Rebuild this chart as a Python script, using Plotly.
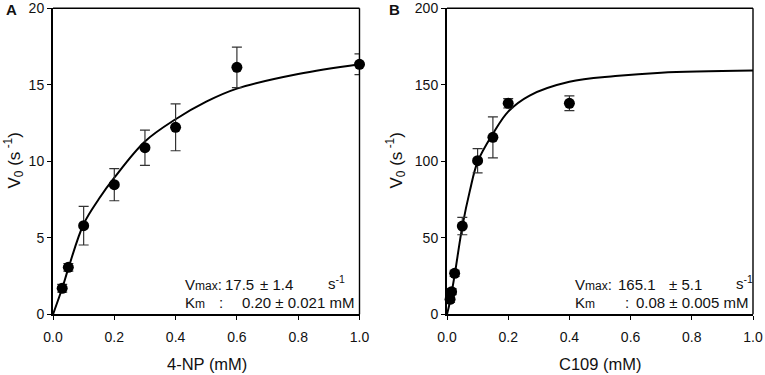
import plotly.graph_objects as go

W, H = 765, 375

# Panel A data (4-NP)
a_x = [0.03, 0.05, 0.1, 0.2, 0.3, 0.4, 0.6, 1.0]
a_y = [1.70, 3.07, 5.79, 8.47, 10.89, 12.22, 16.14, 16.34]
a_err = [0.25, 0.25, 1.26, 1.05, 1.15, 1.53, 1.32, 0.68]
a_fit_x = [0, 0.03, 0.05, 0.1, 0.15, 0.2, 0.3, 0.4, 0.5, 0.6, 0.8, 1.0]
a_fit_y = [0, 1.7, 3.0, 5.9, 7.55, 8.93, 11.3, 12.75, 13.9, 14.75, 15.7, 16.34]

# Panel B data (C109)
b_x = [0.01, 0.015, 0.025, 0.05, 0.1, 0.15, 0.2, 0.4]
b_y = [9.8, 14.8, 26.8, 57.7, 100.4, 115.7, 137.9, 137.9]
b_err = [2.0, 2.0, 2.0, 5.7, 7.9, 13.4, 3.05, 4.8]
b_fit_x = [0, 0.01, 0.025, 0.05, 0.075, 0.1, 0.15, 0.2, 0.27, 0.4, 0.55, 0.7, 1.0]
b_fit_y = [0, 8.5, 25.7, 57.3, 81, 99.7, 118, 132.5, 143, 152, 155.7, 157.9, 159.3]

x_ticks = [0.0, 0.2, 0.4, 0.6, 0.8, 1.0]
x_tick_text = ["0.0", "0.2", "0.4", "0.6", "0.8", "1.0"]
a_y_ticks = [0, 5, 10, 15, 20]
b_y_ticks = [0, 50, 100, 150, 200]

FONT = "Liberation Sans, Arial, sans-serif"
INK = "#111111"

fig = go.Figure()

def add_panel(xs, ys, errs, fx, fy, xa, ya):
    fig.add_trace(go.Scatter(x=fx, y=fy, mode="lines", xaxis=xa, yaxis=ya,
                             line=dict(color="black", width=2, shape="spline", smoothing=1.0),
                             hoverinfo="skip", showlegend=False, cliponaxis=False))
    fig.add_trace(go.Scatter(x=xs, y=ys, mode="markers", xaxis=xa, yaxis=ya,
                             marker=dict(color="black", size=11),
                             error_y=dict(type="data", array=errs, color="#333333",
                                          thickness=1.2, width=5),
                             showlegend=False, cliponaxis=False))

add_panel(a_x, a_y, a_err, a_fit_x, a_fit_y, "x", "y")
add_panel(b_x, b_y, b_err, b_fit_x, b_fit_y, "x2", "y2")

ydom = [1 - 314.3 / H, 1 - 8.3 / H]
axis_common = dict(showline=True, linecolor="black", linewidth=2, mirror=False,
                   ticks="outside", ticklen=4, tickwidth=1, tickcolor="black",
                   showgrid=False, zeroline=False, automargin=False,
                   tickfont=dict(family=FONT, size=14, color=INK))

fig.update_layout(
    template="none",
    width=W, height=H,
    margin=dict(l=0, r=0, t=0, b=0, pad=0),
    font=dict(family=FONT, color=INK),
    paper_bgcolor="white", plot_bgcolor="white",
    xaxis=dict(domain=[53 / W, 359.5 / W], range=[0, 1], tickvals=x_ticks,
               ticktext=x_tick_text, anchor="y", ticklabelstandoff=5, **axis_common),
    yaxis=dict(domain=ydom, range=[0, 20], tickvals=a_y_ticks, anchor="x", **axis_common),
    xaxis2=dict(domain=[447 / W, 753 / W], range=[0, 1], tickvals=x_ticks,
                ticktext=x_tick_text, anchor="y2", ticklabelstandoff=5, **axis_common),
    yaxis2=dict(domain=ydom, range=[0, 200], tickvals=b_y_ticks, anchor="x2", **axis_common),
)

# top/right frame lines
for xr, yr in (("x domain", "y domain"), ("x2 domain", "y2 domain")):
    fig.add_shape(type="line", xref=xr, yref=yr, x0=0, x1=1, y0=1, y1=1,
                  line=dict(color="black", width=1.4))
    fig.add_shape(type="line", xref=xr, yref=yr, x0=1, x1=1, y0=0, y1=1,
                  line=dict(color="black", width=1.4))

def ann(text, px, py, size, xanchor="center", angle=0, bold=False):
    if bold:
        text = "<b>" + text + "</b>"
    fig.add_annotation(text=text, x=px / W, y=1 - py / H, xref="paper", yref="paper",
                       xanchor=xanchor, yanchor="middle", showarrow=False, textangle=angle,
                       font=dict(family=FONT, size=size, color=INK))

ytitle = "V<sub>0</sub> (s<sup> -1</sup>)"
ann(ytitle, 13.5, 161, 17, angle=-90)
ann(ytitle, 395.5, 161, 17, angle=-90)
ann("4-NP (mM)", 206.5, 364, 16.5)
ann("C109 (mM)", 600.5, 364, 16.5)
ann("A", 11, 10, 15, bold=True)
ann("B", 394.5, 10, 15, bold=True)

SMALL = "<span style='font-size:12px'>%s</span>"
# Panel A stats
ann("V" + SMALL % "max" + ":", 182.5, 284, 15, xanchor="left")
ann("17.5", 222.5, 284, 15, xanchor="left")
ann("± 1.4", 258, 284, 15, xanchor="left")
ann("s<sup>-1</sup>", 325.5, 282, 15, xanchor="left")
ann("K" + SMALL % "m", 182.5, 302, 15, xanchor="left")
ann(":", 216.5, 302, 15, xanchor="left")
ann("0.20 ± 0.021 mM", 356, 302, 15, xanchor="right")
# Panel B stats
ann("V" + SMALL % "max" + ":", 573, 284, 15, xanchor="left")
ann("165.1", 616, 284, 15, xanchor="left")
ann("± 5.1", 667, 284, 15, xanchor="left")
ann("s<sup>-1</sup>", 734, 282, 15, xanchor="left")
ann("K" + SMALL % "m", 573, 302, 15, xanchor="left")
ann(":", 623, 302, 15, xanchor="left")
ann("0.08 ± 0.005 mM", 750, 302, 15, xanchor="right")

fig.write_html("out.html",
               config={"displayModeBar": False, "staticPlot": True},
               post_script="document.body.style.margin='0';document.body.style.overflow='hidden';")
